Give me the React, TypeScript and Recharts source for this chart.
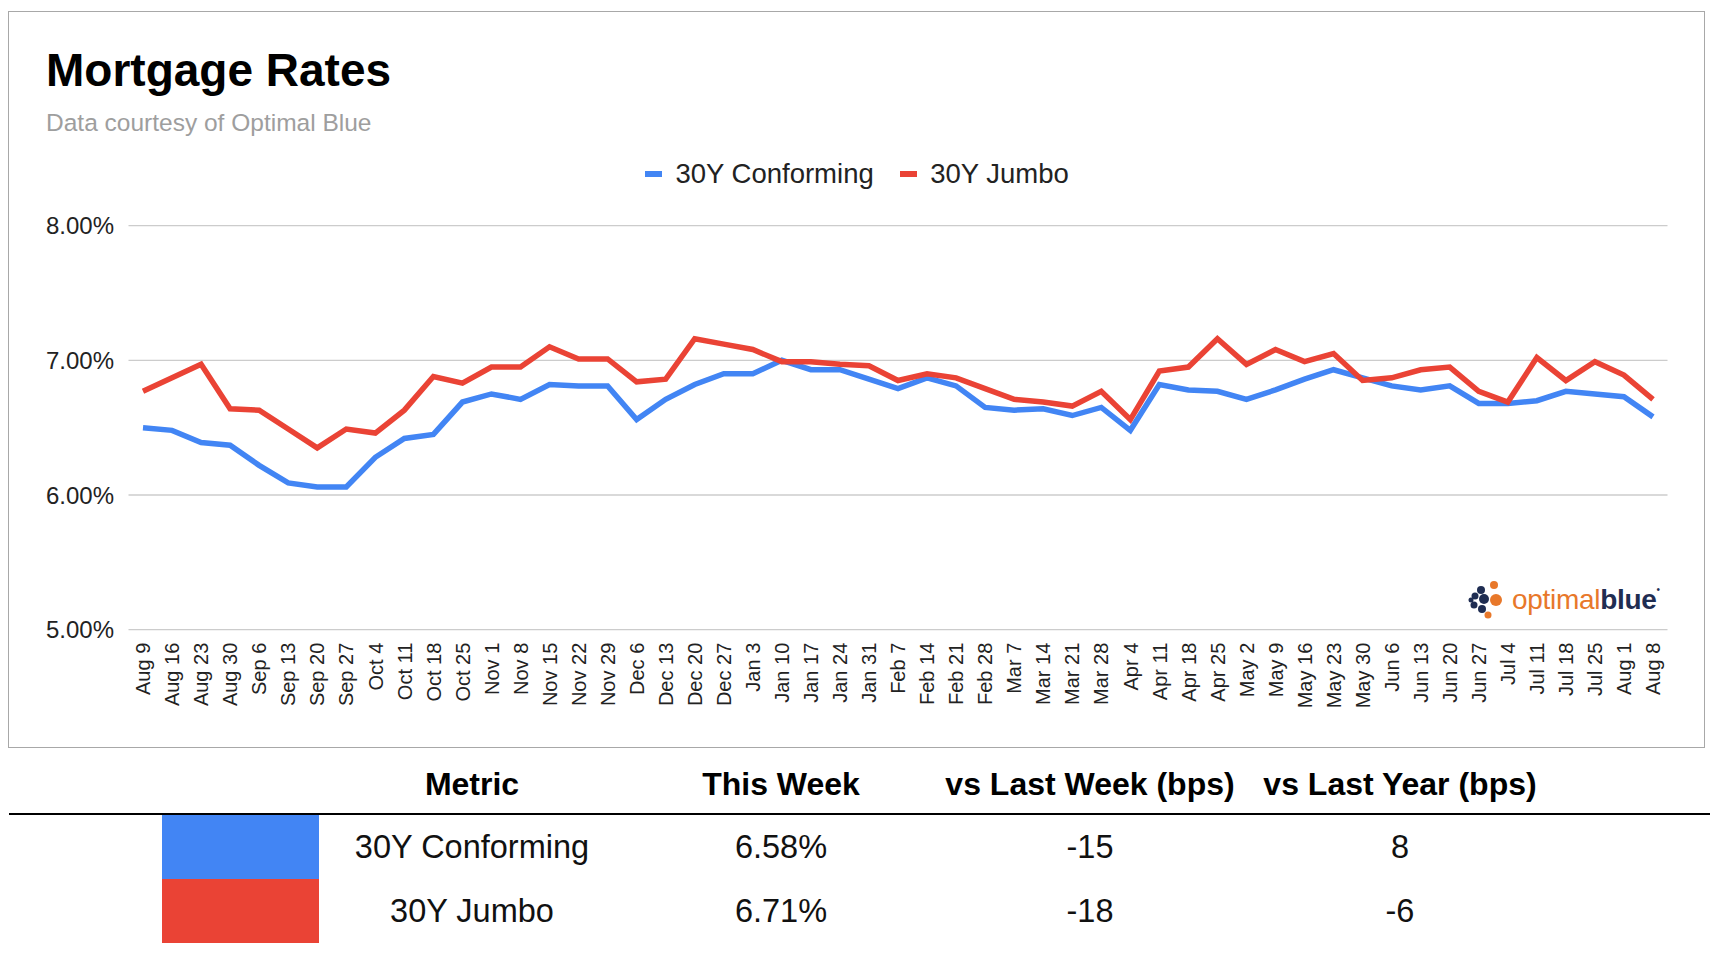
import { LineChart, Line, XAxis, YAxis, CartesianGrid } from 'recharts';

const weeks = [
  'Aug 9', 'Aug 16', 'Aug 23', 'Aug 30', 'Sep 6', 'Sep 13', 'Sep 20', 'Sep 27',
  'Oct 4', 'Oct 11', 'Oct 18', 'Oct 25', 'Nov 1', 'Nov 8', 'Nov 15', 'Nov 22', 'Nov 29',
  'Dec 6', 'Dec 13', 'Dec 20', 'Dec 27', 'Jan 3', 'Jan 10', 'Jan 17', 'Jan 24', 'Jan 31',
  'Feb 7', 'Feb 14', 'Feb 21', 'Feb 28', 'Mar 7', 'Mar 14', 'Mar 21', 'Mar 28',
  'Apr 4', 'Apr 11', 'Apr 18', 'Apr 25', 'May 2', 'May 9', 'May 16', 'May 23', 'May 30',
  'Jun 6', 'Jun 13', 'Jun 20', 'Jun 27', 'Jul 4', 'Jul 11', 'Jul 18', 'Jul 25', 'Aug 1', 'Aug 8',
];

const conforming = [
  6.50, 6.48, 6.39, 6.37, 6.22, 6.09, 6.06, 6.06, 6.28, 6.42, 6.45, 6.69, 6.75, 6.71, 6.82, 6.81, 6.81,
  6.56, 6.71, 6.82, 6.90, 6.90, 7.00, 6.93, 6.93, 6.86, 6.79, 6.87, 6.81, 6.65, 6.63, 6.64, 6.59, 6.65,
  6.48, 6.82, 6.78, 6.77, 6.71, 6.78, 6.86, 6.93, 6.87, 6.81, 6.78, 6.81, 6.68, 6.68, 6.70, 6.77, 6.75,
  6.73, 6.58,
];

const jumbo = [
  6.77, 6.87, 6.97, 6.64, 6.63, 6.49, 6.35, 6.49, 6.46, 6.63, 6.88, 6.83, 6.95, 6.95, 7.10, 7.01, 7.01,
  6.84, 6.86, 7.16, 7.12, 7.08, 6.99, 6.99, 6.97, 6.96, 6.85, 6.90, 6.87, 6.79, 6.71, 6.69, 6.66, 6.77,
  6.56, 6.92, 6.95, 7.16, 6.97, 7.08, 6.99, 7.05, 6.85, 6.87, 6.93, 6.95, 6.77, 6.69, 7.02, 6.85, 6.99,
  6.89, 6.71,
];

const yTicks = [5, 6, 7, 8];

const seriesNames = ['30Y Conforming', '30Y Jumbo'];
const seriesColors = ['#4285f4', '#ea4335'];

const tableHeaders = ['Metric', 'This Week', 'vs Last Week (bps)', 'vs Last Year (bps)'];
const thisWeek = ['6.58%', '6.71%'];
const vsLastWeek = ['-15', '-18'];
const vsLastYear = ['8', '-6'];

const data = weeks.map((w, i) => ({ week: w, conforming: conforming[i], jumbo: jumbo[i] }));

const FONT = "'Liberation Sans', Arial, sans-serif";

function WeekTick(props: any) {
  const { x, y, payload } = props;
  return (
    <g transform={`translate(${x},${y})`}>
      <text
        transform="rotate(-90)"
        textAnchor="end"
        dy="0.36em"
        fontSize={20}
        fontFamily={FONT}
        fill="#222"
      >
        {payload.value}
      </text>
    </g>
  );
}

function Logo() {
  return (
    <div style={{ position: 'absolute', left: 1466, top: 580, display: 'flex', alignItems: 'center' }}>
      <svg width={40} height={40} viewBox="0 0 40 40">
        <circle cx={28} cy={5} r={4} fill="#e8782a" />
        <circle cx={30} cy={20} r={6} fill="#e8782a" />
        <circle cx={22} cy={35} r={3.5} fill="#e8782a" />
        <circle cx={15} cy={10} r={4} fill="#1f2d52" />
        <circle cx={9} cy={16} r={3.5} fill="#1f2d52" />
        <circle cx={18} cy={19} r={5} fill="#1f2d52" />
        <circle cx={8} cy={25} r={3.5} fill="#1f2d52" />
        <circle cx={16} cy={29} r={4} fill="#1f2d52" />
        <circle cx={5} cy={20} r={2.5} fill="#1f2d52" />
      </svg>
      <span style={{ fontFamily: FONT, fontSize: 28, marginLeft: 6, letterSpacing: -0.3 }}>
        <span style={{ color: '#e8782a' }}>optimal</span>
        <span style={{ color: '#1f2d52', fontWeight: 'bold' }}>blue</span>
        <span style={{ color: '#1f2d52', fontSize: 10, verticalAlign: 'top' }}>•</span>
      </span>
    </div>
  );
}

export default function App() {
  const colCenters = [472, 781, 1090, 1400];
  return (
    <div style={{ position: 'absolute', left: 0, top: 0, width: 1714, height: 958, background: '#fff', fontFamily: FONT }}>
      <div
        style={{
          position: 'absolute', left: 8, top: 11, width: 1697, height: 737,
          border: '1.5px solid #a8a8a8', boxSizing: 'border-box',
        }}
      />
      <div style={{ position: 'absolute', left: 46, top: 44, fontSize: 46, fontWeight: 'bold', color: '#000', lineHeight: '52px' }}>
        Mortgage Rates
      </div>
      <div style={{ position: 'absolute', left: 46, top: 108, fontSize: 24.5, color: '#9e9e9e', lineHeight: '30px' }}>
        Data courtesy of Optimal Blue
      </div>

      <div style={{ position: 'absolute', left: 645, top: 158, height: 32, display: 'flex', alignItems: 'center', fontSize: 27.5, color: '#222' }}>
        {seriesNames.map((n, i) => (
          <div key={n} style={{ display: 'flex', alignItems: 'center', marginRight: i === 0 ? 26 : 0 }}>
            <div style={{ width: 17, height: 6, background: seriesColors[i], marginRight: 13.5 }} />
            <span>{n}</span>
          </div>
        ))}
      </div>

      <div style={{ position: 'absolute', left: 0, top: 0 }}>
        <LineChart
          width={1714}
          height={760}
          data={data}
          margin={{ top: 225.6, right: 46.5, bottom: 30.3, left: 28.5 }}
        >
          <CartesianGrid vertical={false} stroke="#cccccc" strokeWidth={1.3} />
          <XAxis
            dataKey="week"
            interval={0}
            height={100}
            axisLine={false}
            tickLine={false}
            tickSize={0}
            tickMargin={13}
            padding={{ left: 14.5, right: 14.5 }}
            tick={<WeekTick />}
          />
          <YAxis
            domain={[5, 8]}
            ticks={yTicks}
            width={100}
            axisLine={false}
            tickLine={false}
            tickSize={6}
            tickMargin={8.5}
            tickFormatter={(v: number) => `${v.toFixed(2)}%`}
            tick={{ fontSize: 24, fill: '#222', fontFamily: FONT }}
          />
          <Line type="linear" dataKey="conforming" stroke={seriesColors[0]} strokeWidth={5.5} dot={false} isAnimationActive={false} />
          <Line type="linear" dataKey="jumbo" stroke={seriesColors[1]} strokeWidth={5.5} dot={false} isAnimationActive={false} />
        </LineChart>
      </div>

      <Logo />

      {tableHeaders.map((h, i) => (
        <div
          key={h}
          style={{
            position: 'absolute', left: colCenters[i] - 200, width: 400, top: 766, textAlign: 'center',
            fontSize: 32, fontWeight: 'bold', color: '#000', lineHeight: '36px',
          }}
        >
          {h}
        </div>
      ))}
      <div style={{ position: 'absolute', left: 9, top: 813, width: 1701, height: 2, background: '#000' }} />

      {seriesNames.map((n, r) => {
        const top = 815 + r * 64;
        const cells = [n, thisWeek[r], vsLastWeek[r], vsLastYear[r]];
        return (
          <div key={n}>
            <div style={{ position: 'absolute', left: 162, top, width: 157, height: 64, background: seriesColors[r] }} />
            {cells.map((c, i) => (
              <div
                key={i}
                style={{
                  position: 'absolute', left: colCenters[i] - 200, width: 400, top: top + 13, textAlign: 'center',
                  fontSize: 32.5, color: '#111', lineHeight: '38px',
                }}
              >
                {c}
              </div>
            ))}
          </div>
        );
      })}
    </div>
  );
}
